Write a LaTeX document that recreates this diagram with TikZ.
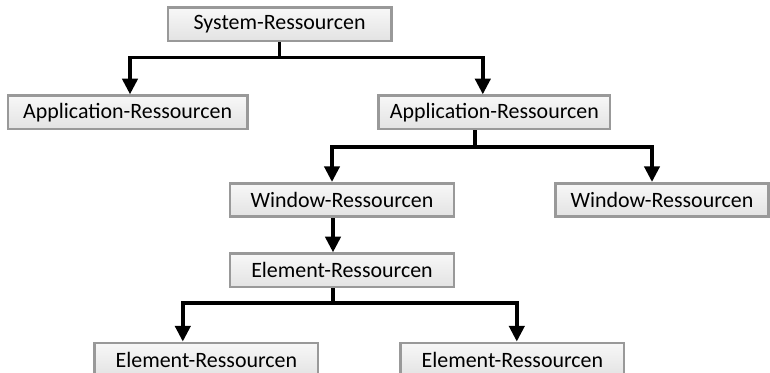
\documentclass[tikz,border=0pt]{standalone}
\usepackage{fontspec}
\setmainfont{Carlito}
\usepackage{xcolor}
\usetikzlibrary{arrows.meta}

\begin{document}
\begin{tikzpicture}[
  res/.style={draw=gray!80, line width=2.1pt, top color=gray!6, bottom color=gray!22,
    minimum height=0.83cm, inner sep=0pt, font=\fontsize{15.6}{18}\selectfont},
  line/.style={line width=2.5pt},
  arrow/.style={line width=2.5pt, -{Triangle[length=0.39cm, width=0.38cm]}}
]
\useasboundingbox (0,0) rectangle (19.25,-9.325);
\clip (0,0) rectangle (19.25,-9.325);
\node[res, minimum width=5.58cm] (sys) at (6.99,-0.61) {System-Ressourcen};
\node[res, minimum width=5.98cm] (appL) at (3.19,-2.81) {Application-Ressourcen};
\node[res, minimum width=5.78cm] (appR) at (12.36,-2.81) {Application-Ressourcen};
\node[res, minimum width=5.6cm] (winL) at (8.55,-5.0) {Window-Ressourcen};
\node[res, minimum width=5.33cm] (winR) at (16.55,-5.0) {Window-Ressourcen};
\node[res, minimum width=5.6cm] (elem) at (8.55,-6.76) {Element-Ressourcen};
\node[res, minimum width=5.58cm] (elemL) at (5.16,-8.99) {Element-Ressourcen};
\node[res, minimum width=5.58cm] (elemR) at (12.81,-8.99) {Element-Ressourcen};
\draw[line] (sys.south) -- ++(0,-0.38) coordinate (j1);
\draw[arrow] (j1) -| ([xshift=0.06cm]appL.north);
\draw[arrow] (j1) -| ([xshift=-0.29cm]appR.north);
\draw[line] ([xshift=-0.49cm]appR.south) -- ++(0,-0.41) coordinate (j2);
\draw[arrow] (j2) -| ([xshift=-0.25cm]winL.north);
\draw[arrow] (j2) -| ([xshift=-0.25cm]winR.north);
\draw[arrow] ([xshift=-0.225cm]winL.south) -- ([xshift=-0.225cm]elem.north);
\draw[line] ([xshift=-0.225cm]elem.south) -- ++(0,-0.36) coordinate (j3);
\draw[arrow] (j3) -| ([xshift=-0.59cm]elemL.north);
\draw[arrow] (j3) -| ([xshift=0.11cm]elemR.north);
\end{tikzpicture}
\end{document}
